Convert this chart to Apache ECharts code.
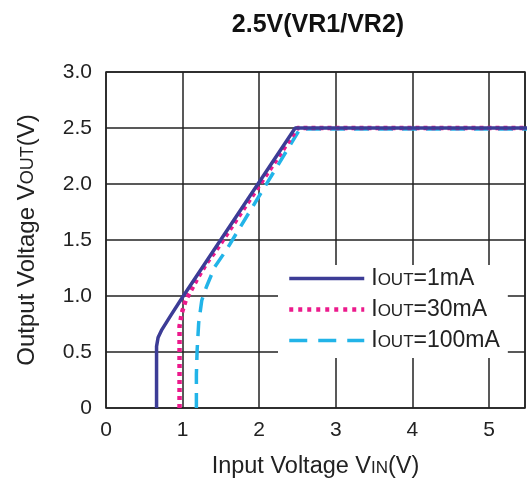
<!DOCTYPE html>
<html><head><meta charset="utf-8">
<script src="https://cdn.jsdelivr.net/npm/echarts@6/dist/echarts.min.js"></script>
<style>html,body{margin:0;padding:0;background:#fff}#c{width:527px;height:481px}</style>
</head><body><div id="c"></div>
<script>
const seriesNames = ['1mA', '30mA', '100mA'];
const vin1  = [0.66, 0.66, 0.68, 0.73, 0.84, 0.99, 2.47, 5.5];
const vout1 = [0.00, 0.55, 0.63, 0.70, 0.82, 0.98, 2.50, 2.5];
const vin2  = [0.96, 0.96, 0.99, 1.04, 1.18, 1.31, 1.44, 2.50, 5.5];
const vout2 = [0.00, 0.73, 0.85, 0.96, 1.14, 1.29, 1.41, 2.50, 2.5];
const vin3  = [1.18, 1.18, 1.19, 1.21, 1.25, 1.31, 1.42, 1.57, 2.53, 5.5];
const vout3 = [0.00, 0.30, 0.52, 0.76, 0.96, 1.08, 1.26, 1.41, 2.49, 2.49];
const xTicks = [0, 1, 2, 3, 4, 5];
const yTicks = ['0', '0.5', '1.0', '1.5', '2.0', '2.5', '3.0'];

const zip = (a, b) => a.map((v, i) => [v, b[i]]);
const font = 'Liberation Sans, Arial, sans-serif';
const chart = echarts.init(document.getElementById('c'));
const colors = ['#3c3c96', '#ec1a8c', '#22b4e8'];
const styles = [
  { type: 'solid', width: 3.5 },
  { type: [4, 4], width: 4.5 },
  { type: [15, 9], width: 3.5 }
];
const legendDash = ['solid', [4, 5], [18, 11]];
const datas = [zip(vin1, vout1), zip(vin2, vout2), zip(vin3, vout3)];
const sub = { fontFamily: font, fontSize: 17, color: '#222', padding: [3, 0, 0, 0] };
chart.setOption({
  animation: false,
  title: {
    text: '2.5V(VR1/VR2)', left: 313, top: 8, textAlign: 'center',
    textStyle: { fontFamily: font, fontWeight: 'bold', fontSize: 25, color: '#111' }
  },
  grid: { left: 106, right: 2, top: 72, bottom: 73, show: true, borderColor: '#222', borderWidth: 1.5,
    outerBoundsMode: 'none', containLabel: false },
  xAxis: {
    type: 'value', min: 0, max: 5.47, interval: 1,
    name: 'Input Voltage V{s|IN}(V)', nameLocation: 'middle', nameGap: 47,
    nameTextStyle: { fontFamily: font, fontSize: 23.5, color: '#222', rich: { s: sub } },
    axisLine: { show: false }, axisTick: { show: false },
    axisLabel: { fontFamily: font, fontSize: 21, color: '#222', margin: 12,
      formatter: v => xTicks.includes(v) ? String(v) : '' },
    splitLine: { show: true, lineStyle: { color: '#222', width: 1.5 } }
  },
  yAxis: {
    type: 'value', min: 0, max: 3, interval: 0.5,
    name: 'Output Voltage V{s|OUT}(V)', nameLocation: 'middle', nameGap: 67,
    nameTextStyle: { fontFamily: font, fontSize: 24, color: '#222',
      rich: { s: Object.assign({}, sub, { fontSize: 18 }) } },
    axisLine: { show: false }, axisTick: { show: false },
    axisLabel: { fontFamily: font, fontSize: 21, color: '#222', margin: 14,
      formatter: v => yTicks[Math.round(v * 2)] },
    splitLine: { show: true, lineStyle: { color: '#222', width: 1.5 } }
  },
  legend: {
    orient: 'vertical', left: 278, top: 265, padding: [2, 8, 6, 9],
    backgroundColor: '#fff', itemWidth: 75, itemHeight: 14, itemGap: 8,
    itemStyle: { opacity: 0 },
    data: seriesNames.map((n, i) => ({ name: n,
      itemStyle: { opacity: 0 },
      lineStyle: { color: colors[i], type: legendDash[i], width: styles[i].width } })),
    formatter: n => 'I{s|OUT}=' + n,
    textStyle: { fontFamily: font, fontSize: 23, color: '#222', padding: [0, 0, 0, 2],
      rich: { s: sub } }
  },
  series: seriesNames.map((n, i) => ({
    name: n, type: 'line', data: datas[i], showSymbol: false, symbol: 'none', smooth: false,
    lineStyle: { color: colors[i], type: styles[i].type, width: styles[i].width },
    itemStyle: { color: colors[i] }, z: 3 - i
  }))
});
</script></body></html>
